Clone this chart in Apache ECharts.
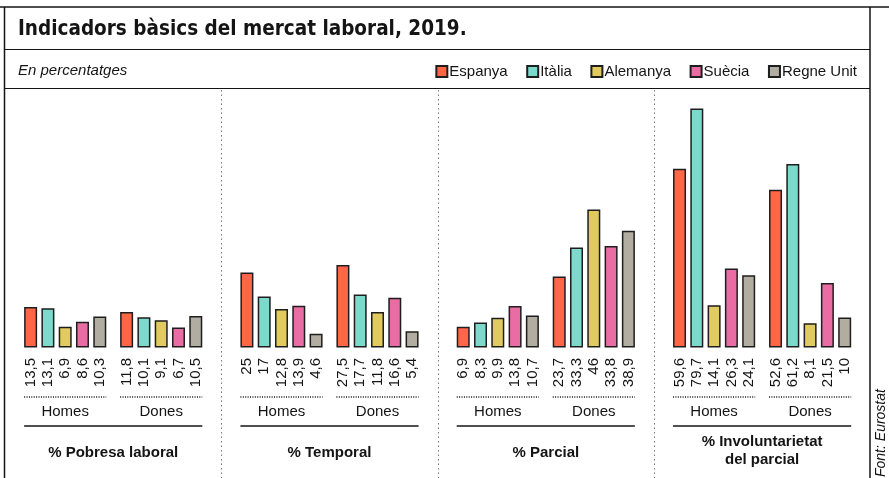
<!DOCTYPE html>
<html><head><meta charset="utf-8">
<script src="https://cdn.jsdelivr.net/npm/echarts@6/dist/echarts.min.js"></script>
<style>html,body{margin:0;padding:0;background:#fff}#c{width:889px;height:478px}</style>
</head><body><div id="c"></div>
<script>
const countries = ['Espanya', 'Itàlia', 'Alemanya', 'Suècia', 'Regne Unit'];
const colors = ['#FF6645', '#7DD9CB', '#E2CB5E', '#E96CA4', '#B1ADA0'];
const groups = ['Homes', 'Dones'];
const panelTitles = ['% Pobresa laboral', '% Temporal', '% Parcial', '% Involuntarietat\ndel parcial'];

const pobresaHomes = [13.5, 13.1, 6.9, 8.6, 10.3];
const pobresaDones = [11.8, 10.1, 9.1, 6.7, 10.5];
const temporalHomes = [25, 17, 12.8, 13.9, 4.6];
const temporalDones = [27.5, 17.7, 11.8, 16.6, 5.4];
const parcialHomes = [6.9, 8.3, 9.9, 13.8, 10.7];
const parcialDones = [23.7, 33.3, 46, 33.8, 38.9];
const involHomes = [59.6, 79.7, 14.1, 26.3, 24.1];
const involDones = [52.6, 61.2, 8.1, 21.5, 10];

const panels = [
  [pobresaHomes, pobresaDones],
  [temporalHomes, temporalDones],
  [parcialHomes, parcialDones],
  [involHomes, involDones]
];

const FONT = "'Liberation Sans', Arial, sans-serif";
const INK = '#141414';
const chart = echarts.init(document.getElementById('c'), null, {renderer: 'canvas'});

const PW = 216.3, GX0 = 17.2, GW = 192, GTOP = 107.5, GH = 240;
const grids = [], xAxes = [], yAxes = [], series = [];
panels.forEach((p, g) => {
  grids.push({left: GX0 + g * PW, top: GTOP, width: GW, height: GH});
  xAxes.push({
    type: 'category', gridIndex: g, data: groups,
    axisLine: {show: false}, axisTick: {show: false},
    axisLabel: {margin: 57, fontSize: 15, color: INK, fontFamily: FONT, lineHeight: 15},
    name: panelTitles[g], nameLocation: 'middle',
    nameGap: g === 3 ? 85 : 96,
    nameTextStyle: {fontSize: 15, fontWeight: 'bold', color: INK, fontFamily: FONT, lineHeight: 18}
  });
  yAxes.push({type: 'value', gridIndex: g, min: 0, max: 80, show: false});
  countries.forEach((c, k) => {
    series.push({
      type: 'bar', name: c, xAxisIndex: g, yAxisIndex: g,
      data: [p[0][k], p[1][k]],
      barWidth: 13, barGap: '33%',
      itemStyle: {color: colors[k], borderColor: '#1e1e1e', borderWidth: 1.5},
      label: {
        show: true, position: 'bottom', distance: 10.5, rotate: 90,
        align: 'right', verticalAlign: 'middle',
        fontSize: 15, color: INK, fontFamily: FONT,
        formatter: (d) => String(d.value).replace('.', ',')
      },
      emphasis: {disabled: true},
      animation: false
    });
  });
});

chart.setOption({
  animation: false,
  title: [
    {text: 'Indicadors bàsics del mercat laboral, 2019.', left: 13, top: 14,
     textStyle: {fontSize: 20.5, fontWeight: 'bold', color: INK,
       fontFamily: "'Liberation Sans Narrow', 'DejaVu Sans Condensed', sans-serif"}},
    {text: 'En percentatges', left: 13, top: 58,
     textStyle: {fontSize: 15, fontStyle: 'italic', fontWeight: 'normal', color: INK, fontFamily: FONT}}
  ],
  legend: {
    data: countries, right: 27, top: 59, icon: 'rect', itemWidth: 11, itemHeight: 11,
    itemGap: 18.5, selectedMode: false,
    textStyle: {fontSize: 15, color: INK, fontFamily: FONT, padding: [0, 0, 0, -3]}
  },
  grid: grids, xAxis: xAxes, yAxis: yAxes, series: series
});

// decorations derived from library layout
const gfx = [];
const L = 4.5, R = 870;
gfx.push({type: 'line', shape: {x1: 0, y1: 7, x2: 889, y2: 7}, style: {stroke: INK, lineWidth: 1.5}, silent: true});
gfx.push({type: 'line', shape: {x1: L, y1: 7, x2: L, y2: 478}, style: {stroke: INK, lineWidth: 1.5}, silent: true});
gfx.push({type: 'line', shape: {x1: R, y1: 7, x2: R, y2: 478}, style: {stroke: INK, lineWidth: 1.5}, silent: true});
gfx.push({type: 'line', shape: {x1: L, y1: 49.5, x2: R, y2: 49.5}, style: {stroke: INK, lineWidth: 1.2}, silent: true});
gfx.push({type: 'line', shape: {x1: L, y1: 88.5, x2: R, y2: 88.5}, style: {stroke: INK, lineWidth: 1.2}, silent: true});
for (let g = 1; g < 4; g++) {
  const x = Math.round(GX0 + g * PW - (PW - GW) / 2) + 0.5;
  gfx.push({type: 'line', shape: {x1: x, y1: 90, x2: x, y2: 478}, style: {stroke: '#777', lineWidth: 1, lineDash: [1.5, 3]}, silent: true});
}
const model = chart.getModel();
for (let g = 0; g < 4; g++) {
  const first = model.getSeriesByIndex(g * 5).getData();
  const last = model.getSeriesByIndex(g * 5 + 4).getData();
  for (let j = 0; j < 2; j++) {
    const a = first.getItemLayout(j), b = last.getItemLayout(j);
    gfx.push({type: 'line', shape: {x1: a.x, y1: 397, x2: b.x + b.width, y2: 397},
      style: {stroke: INK, lineWidth: 1.5, lineDash: [1, 1.4]}, silent: true});
  }
  const a0 = first.getItemLayout(0), b1 = last.getItemLayout(1);
  gfx.push({type: 'line', shape: {x1: a0.x, y1: 426, x2: b1.x + b1.width, y2: 426},
    style: {stroke: INK, lineWidth: 1.5}, silent: true});
}
gfx.push({type: 'text', x: 881.5, y: 477, rotation: Math.PI / 2,
  style: {text: 'Font: Eurostat', fontSize: 14, fontStyle: 'italic', fill: INK, fontFamily: FONT,
    align: 'left', verticalAlign: 'middle'}, silent: true});
chart.setOption({graphic: gfx});
</script></body></html>
